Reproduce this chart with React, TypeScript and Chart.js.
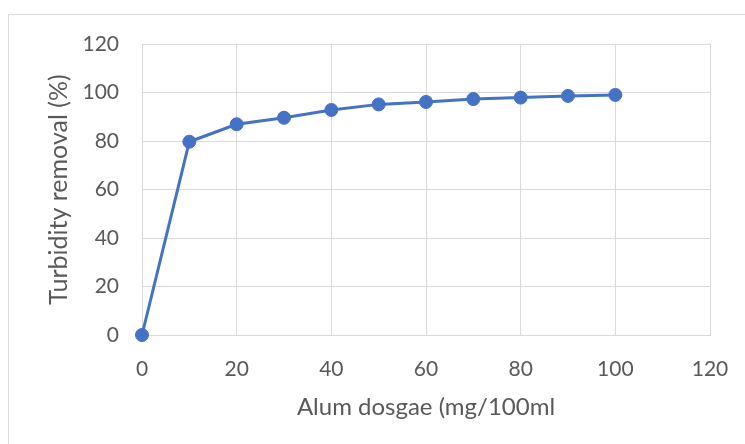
import React, { useEffect, useRef } from "react";
import { Chart, registerables } from "chart.js";

Chart.register(...registerables);

const dosage = [0, 10, 20, 30, 40, 50, 60, 70, 80, 90, 100];
const removal = [0, 79.7, 86.9, 89.6, 92.8, 95.1, 96.1, 97.3, 97.9, 98.6, 99.0];
const xTitle = "Alum dosgae (mg/100ml";
const yTitle = "Turbidity removal (%)";

const TEXT = "#595959";
const GRID = "#d9d9d9";
const BLUE = "#4472C4";
const FONT = "Lato, 'Liberation Sans', sans-serif";

const framePlugin = {
  id: "frame",
  beforeDraw(chart: any) {
    const ctx = chart.ctx;
    ctx.save();
    ctx.fillStyle = "#ffffff";
    ctx.fillRect(0, 0, chart.width, chart.height);
    ctx.strokeStyle = GRID;
    ctx.lineWidth = 1;
    ctx.strokeRect(8.5, 14.5, chart.width + 10, chart.height + 10);
    ctx.restore();
  },
};

export default function App() {
  const ref = useRef<HTMLCanvasElement | null>(null);
  useEffect(() => {
    if (!ref.current) return;
    const chart = new Chart(ref.current, {
      type: "line",
      data: {
        datasets: [
          {
            data: dosage.map((x, i) => ({ x, y: removal[i] })),
            borderColor: BLUE,
            backgroundColor: BLUE,
            borderWidth: 3,
            pointRadius: 6.5,
            pointBorderWidth: 1,
            pointBackgroundColor: BLUE,
            pointBorderColor: BLUE,
            tension: 0,
            clip: false,
          },
        ],
      },
      options: {
        animation: false,
        responsive: true,
        maintainAspectRatio: false,
        devicePixelRatio: 1,
        layout: { padding: { left: 40, top: 44, right: 35, bottom: 22 } },
        plugins: { legend: { display: false }, tooltip: { enabled: false } },
        scales: {
          x: {
            type: "linear",
            min: 0,
            max: 120,
            ticks: { stepSize: 20, color: TEXT, font: { family: FONT, size: 21 }, padding: 22 },
            grid: { color: GRID, lineWidth: 1, drawTicks: false },
            border: { color: GRID, width: 1 },
            title: { display: true, text: xTitle, color: TEXT, font: { family: FONT, size: 24 }, padding: { top: 0, bottom: 0 } },
            afterFit(scale: any) {
              scale.height = 87;
              scale.paddingLeft = 0;
              scale.paddingRight = 0;
            },
          },
          y: {
            min: 0,
            max: 120,
            ticks: { stepSize: 20, color: TEXT, font: { family: FONT, size: 21 }, padding: 23 },
            grid: { color: GRID, lineWidth: 1, drawTicks: false },
            border: { color: GRID, width: 1 },
            title: { display: true, text: yTitle, color: TEXT, font: { family: FONT, size: 25 }, padding: { top: 4, bottom: 0 } },
            afterFit(scale: any) {
              scale.width = 102;
              scale.paddingTop = 0;
              scale.paddingBottom = 0;
            },
          },
        },
      },
      plugins: [framePlugin],
    });
    return () => chart.destroy();
  }, []);
  return (
    <div style={{ position: "absolute", left: 0, top: 0, width: 745, height: 444 }}>
      <canvas ref={ref} />
    </div>
  );
}
